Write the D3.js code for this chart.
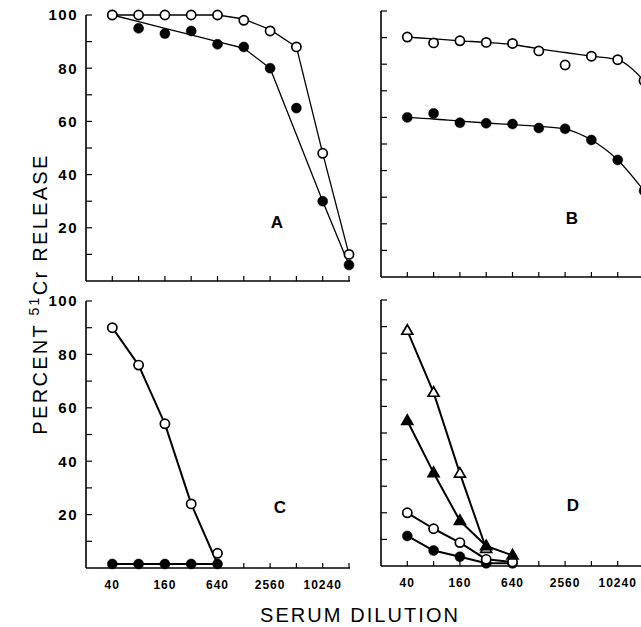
<!DOCTYPE html>
<html>
<head>
<meta charset="utf-8">
<script src="https://cdn.jsdelivr.net/npm/d3@7"></script>
<style>
  body { margin: 0; background: #fff; }
  svg { display: block; font-family: "Liberation Sans", Arial, sans-serif; }
</style>
</head>
<body>
<div id="chart"></div>
<script>
// serum dilutions (x) and axis labels
var dilutions = [40, 80, 160, 320, 640, 1280, 2560, 5120, 10240, 20480];
var shortDil = [40, 80, 160, 320, 640];
var xTickLabels = [40, 160, 640, 2560, 10240];
var yTickLabels = [20, 40, 60, 80, 100];

// panel A
var aOpen = [100, 100, 100, 100, 100, 98, 94, 88, 48, 10];
var aOpenFit = [100, 100, 100, 100, 100, 98.5, 94.5, 88, 48, 10];
var aFilled = [100, 95, 93, 94, 89, 88, 80, 65, 30, 6];
var aFilledFit = [100, 97.5, 95, 92.5, 90, 87.5, 80, 55, 30, 6];

// panel B
var bOpen = [90.2, 88, 88.8, 88.2, 87.8, 85, 79.7, 83, 81.7, 73.8];
var bOpenFit = [90.2, 89.5, 88.8, 88.2, 87.4, 85.8, 84.4, 83, 81.6, 73.8];
var bFilled = [60, 61.5, 58, 57.8, 57.5, 56, 55.7, 51.5, 44, 32.4];
var bFilledFit = [60, 59.4, 58.6, 57.9, 57.3, 56.6, 55.6, 51.5, 44, 32.4];

// panel C
var cOpen = [90, 76, 54, 24, 5.5];
var cOpenFit = [90, 76, 54, 24, 1.5];
var cFilled = [1.5, 1.5, 1.5, 1.5, 1.5];

// panel D
var dOpenTri = [88.5, 65.2, 34.8, 6.5];
var dFilledTri = [54.6, 35, 17, 7.5, 4];
var dOpenCirc = [20, 14, 8.8, 2.5, 1.5];
var dFilledCirc = [11.3, 5.8, 3.5, 1, 1];

var width = 641, height = 627;

var svg = d3.select("#chart").append("svg")
    .attr("width", width)
    .attr("height", height);

svg.append("rect").attr("width", width).attr("height", height).attr("fill", "#fff");

var panels = [
  {name: "A", left: 86, top: 15, bottom: 281, labels: true, xLabels: false, lw: 1.3,
   letter: [277, 228],
   series: [
     {x: dilutions, y: aFilledFit, line: true},
     {x: dilutions, y: aOpenFit, line: true},
     {x: dilutions, y: aFilled, mark: "circle", fill: true},
     {x: dilutions, y: aOpen, mark: "circle", fill: false}
   ]},
  {name: "B", left: 381, top: 11, bottom: 277, labels: false, xLabels: false, lw: 1.3,
   letter: [572, 224], smooth: true,
   series: [
     {x: dilutions, y: bOpenFit, line: true},
     {x: dilutions, y: bFilledFit, line: true},
     {x: dilutions, y: bOpen, mark: "circle", fill: false},
     {x: dilutions, y: bFilled, mark: "circle", fill: true}
   ]},
  {name: "C", left: 86, top: 301, bottom: 568, labels: true, xLabels: true, lw: 2,
   letter: [280, 513],
   series: [
     {x: shortDil, y: cOpenFit, line: true},
     {x: shortDil, y: cFilled, line: true},
     {x: shortDil, y: cFilled, mark: "circle", fill: true},
     {x: shortDil, y: cOpen, mark: "circle", fill: false}
   ]},
  {name: "D", left: 381, top: 300, bottom: 566, labels: false, xLabels: true, lw: 2,
   letter: [573, 511],
   series: [
     {x: shortDil, y: dOpenTri, line: true},
     {x: shortDil, y: dFilledTri, line: true},
     {x: shortDil, y: dOpenCirc, line: true},
     {x: shortDil, y: dFilledCirc, line: true},
     {x: shortDil, y: dFilledCirc, mark: "circle", fill: true},
     {x: shortDil, y: dOpenCirc, mark: "circle", fill: false},
     {x: shortDil, y: dOpenTri, mark: "triangle", fill: false},
     {x: shortDil, y: dFilledTri, mark: "triangle", fill: true}
   ]}
];

panels.forEach(function(p) {
  var x = d3.scaleLog().base(2).domain([20, 20480]).range([p.left, p.left + 263]);
  var y = d3.scaleLinear().domain([0, 100]).range([p.bottom, p.top]);
  var g = svg.append("g");

  // axes lines
  g.append("line").attr("x1", p.left).attr("x2", p.left).attr("y1", y(100)).attr("y2", y(0))
    .attr("stroke", "#000").attr("stroke-width", 1.6);
  g.append("line").attr("x1", p.left).attr("x2", x(20480) + 1).attr("y1", y(0)).attr("y2", y(0))
    .attr("stroke", "#000").attr("stroke-width", 1.6);

  // inward ticks
  g.selectAll(".yt").data(d3.range(10, 101, 10)).join("line")
    .attr("x1", p.left).attr("x2", p.left + 6)
    .attr("y1", d => y(d)).attr("y2", d => y(d))
    .attr("stroke", "#000").attr("stroke-width", 1.2);
  g.selectAll(".xt").data(dilutions).join("line")
    .attr("x1", d => x(d)).attr("x2", d => x(d))
    .attr("y1", y(0)).attr("y2", y(0) - 5)
    .attr("stroke", "#000").attr("stroke-width", 1.2);

  if (p.labels) {
    g.selectAll(".yl").data(yTickLabels).join("text")
      .attr("x", p.left - 8).attr("y", d => y(d))
      .attr("dy", "0.36em")
      .attr("text-anchor", "end")
      .attr("font-size", 15).attr("font-weight", "bold")
      .attr("letter-spacing", 1.5)
      .text(d => d);
  }
  if (p.xLabels) {
    g.selectAll(".xl").data(xTickLabels).join("text")
      .attr("x", d => x(d)).attr("y", y(0) + 21)
      .attr("text-anchor", "middle")
      .attr("font-size", 12).attr("font-weight", "bold")
      .attr("letter-spacing", 1)
      .text(d => d);
  }

  var line = d3.line().curve(p.smooth ? d3.curveMonotoneX : d3.curveLinear);
  p.series.filter(s => s.line).forEach(function(s) {
    g.append("path")
      .attr("d", line(s.y.map((v, i) => [x(s.x[i]), y(v)])))
      .attr("fill", "none").attr("stroke", "#000").attr("stroke-width", p.lw)
      .attr("stroke-linejoin", "round");
  });

  var tri = d3.symbol().type(d3.symbolTriangle).size(52);
  p.series.filter(s => s.mark).forEach(function(s) {
    var pts = s.y.map((v, i) => [x(s.x[i]), y(v)]);
    if (s.mark === "circle") {
      g.selectAll(null).data(pts).join("circle")
        .attr("cx", d => d[0]).attr("cy", d => d[1])
        .attr("r", s.fill ? 5 : 4.6)
        .attr("fill", s.fill ? "#000" : "#fff")
        .attr("stroke", "#000").attr("stroke-width", s.fill ? 0.5 : 1.7);
    } else {
      g.selectAll(null).data(pts).join("path")
        .attr("transform", d => `translate(${d[0]},${d[1] + 0.5})`)
        .attr("d", tri)
        .attr("fill", s.fill ? "#000" : "#fff")
        .attr("stroke", "#000").attr("stroke-width", 1.7);
    }
  });

  g.append("text")
    .attr("x", p.letter[0]).attr("y", p.letter[1])
    .attr("text-anchor", "middle")
    .attr("font-size", 17).attr("font-weight", "bold")
    .text(p.name);
});

// axis titles
svg.append("text")
  .attr("x", 359).attr("y", 622)
  .attr("text-anchor", "middle")
  .attr("font-size", 20)
  .attr("textLength", 198).attr("lengthAdjust", "spacing")
  .text("SERUM DILUTION");

var yt = svg.append("text")
  .attr("transform", "translate(47,294) rotate(-90)")
  .attr("text-anchor", "middle")
  .attr("font-size", 20)
  .attr("letter-spacing", 2.3);
yt.append("tspan").text("PERCENT ");
yt.append("tspan").attr("font-size", 14).attr("dy", -8).text("51");
yt.append("tspan").attr("dy", 8).text("Cr RELEASE");
</script>
</body>
</html>
